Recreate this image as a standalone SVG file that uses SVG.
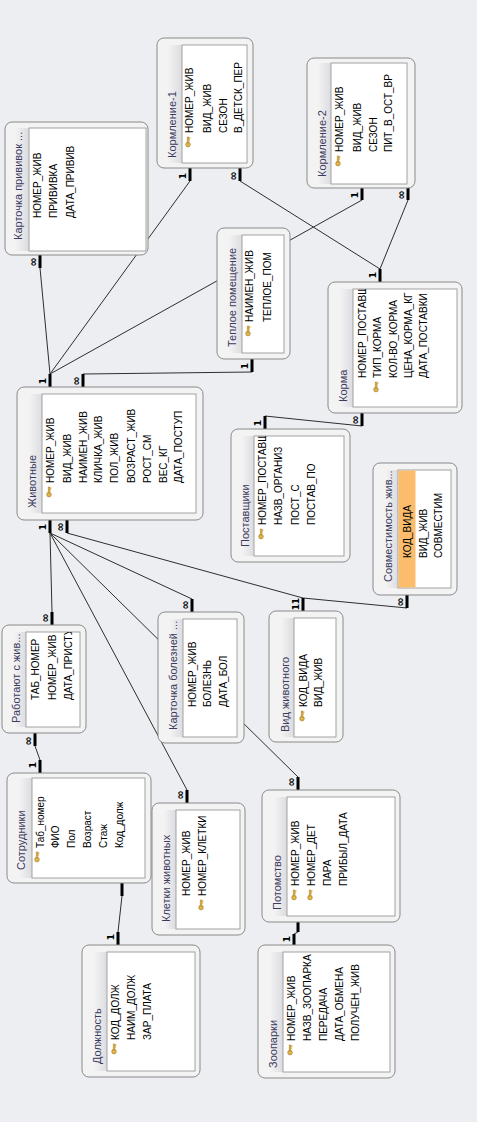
<svg xmlns="http://www.w3.org/2000/svg" xmlns:xlink="http://www.w3.org/1999/xlink" width="477" height="1122" viewBox="0 0 477 1122">
<style>
.box{fill:#f3f3f4;stroke:#8a8a8a;stroke-width:1}
.strip{fill:url(#sg)}
.wa{fill:#fff;stroke:#a2a2a2;stroke-width:1}
.tt{font-family:"Liberation Sans",Arial,sans-serif;font-size:11px;fill:#3b3b5e}
.fd{font-family:"Liberation Sans",Arial,sans-serif;font-size:10px;fill:#000}
.ln{stroke:#2e2e2e;stroke-width:1;fill:none}
.st{stroke:#000;stroke-width:3}
.lb{font-family:"DejaVu Sans",sans-serif;font-size:9px;font-weight:bold;fill:#000}
.inf{font-family:"DejaVu Sans",sans-serif;font-size:11px;font-weight:bold;fill:#000}
</style>
<defs>
<linearGradient id="sg" x1="0" y1="0" x2="1" y2="0">
<stop offset="0" stop-color="#f3f3f4"/>
<stop offset="1" stop-color="#dcdce0"/>
</linearGradient>
<g id="key">
<circle cx="0" cy="2.6" r="2.3" fill="#e3b548" stroke="#9a7420" stroke-width="0.6"/>
<rect x="-0.9" y="-5" width="1.8" height="6" fill="#e3b548" stroke="#9a7420" stroke-width="0.4"/>
<rect x="0.8" y="-4.5" width="1.6" height="1.2" fill="#c9982e"/>
<rect x="0.8" y="-2.4" width="1.2" height="1" fill="#c9982e"/>
</g>
<clipPath id="c5"><rect x="353" y="289" width="104" height="118"/></clipPath>
<clipPath id="c7"><rect x="254" y="436" width="90" height="120"/></clipPath>
<clipPath id="c9"><rect x="26" y="632" width="54" height="95"/></clipPath>
<clipPath id="c16"><rect x="283" y="952" width="107" height="120"/></clipPath>
</defs>
<rect x="0" y="0" width="477" height="1122" fill="#eceef1"/>

<g id="connectors">
<line class="ln" x1="40" y1="268" x2="50" y2="374"/>
<line class="ln" x1="190" y1="181" x2="50" y2="374"/>
<line class="ln" x1="362" y1="200" x2="50" y2="374"/>
<line class="ln" x1="252" y1="372" x2="83" y2="374"/>
<line class="ln" x1="240" y1="181" x2="380" y2="269"/>
<line class="ln" x1="408" y1="200" x2="380" y2="269"/>
<line class="ln" x1="362" y1="426" x2="265" y2="416"/>
<line class="ln" x1="50" y1="533" x2="52" y2="612"/>
<line class="ln" x1="50" y1="533" x2="192" y2="599"/>
<line class="ln" x1="50" y1="533" x2="187" y2="790"/>
<line class="ln" x1="50" y1="533" x2="298" y2="777"/>
<line class="ln" x1="67" y1="533" x2="303" y2="598"/>
<line class="ln" x1="303" y1="598" x2="407" y2="608"/>
<line class="ln" x1="35" y1="746" x2="40" y2="760"/>
<line class="ln" x1="122" y1="896" x2="118" y2="932"/>
<line class="ln" x1="298" y1="932" x2="294" y2="934"/>
<line class="st" x1="40" y1="255" x2="40" y2="268"/>
<line class="st" x1="190" y1="168" x2="190" y2="181"/>
<line class="st" x1="240" y1="168" x2="240" y2="181"/>
<line class="st" x1="362" y1="188" x2="362" y2="200"/>
<line class="st" x1="408" y1="188" x2="408" y2="200"/>
<line class="st" x1="252" y1="359" x2="252" y2="372"/>
<line class="st" x1="380" y1="282" x2="380" y2="269"/>
<line class="st" x1="362" y1="413" x2="362" y2="426"/>
<line class="st" x1="50" y1="387" x2="50" y2="374"/>
<line class="st" x1="83" y1="387" x2="83" y2="374"/>
<line class="st" x1="265" y1="429" x2="265" y2="416"/>
<line class="st" x1="50" y1="520" x2="50" y2="533"/>
<line class="st" x1="67" y1="520" x2="67" y2="533"/>
<line class="st" x1="52" y1="625" x2="52" y2="612"/>
<line class="st" x1="35" y1="733" x2="35" y2="746"/>
<line class="st" x1="192" y1="612" x2="192" y2="599"/>
<line class="st" x1="303" y1="611" x2="303" y2="598"/>
<line class="st" x1="407" y1="595" x2="407" y2="608"/>
<line class="st" x1="40" y1="773" x2="40" y2="760"/>
<line class="st" x1="122" y1="883" x2="122" y2="896"/>
<line class="st" x1="118" y1="945" x2="118" y2="932"/>
<line class="st" x1="187" y1="803" x2="187" y2="790"/>
<line class="st" x1="298" y1="790" x2="298" y2="777"/>
<line class="st" x1="298" y1="922" x2="298" y2="932"/>
<line class="st" x1="294" y1="945" x2="294" y2="934"/>
<text class="inf" text-anchor="middle" transform="translate(36.5,262) rotate(-90)">∞</text>
<text class="lb" text-anchor="middle" transform="translate(186,176) rotate(-90)">1</text>
<text class="inf" text-anchor="middle" transform="translate(236.5,176) rotate(-90)">∞</text>
<text class="lb" text-anchor="middle" transform="translate(358,195) rotate(-90)">1</text>
<text class="inf" text-anchor="middle" transform="translate(404.5,195) rotate(-90)">∞</text>
<text class="lb" text-anchor="middle" transform="translate(248,366) rotate(-90)">1</text>
<text class="lb" text-anchor="middle" transform="translate(376,275) rotate(-90)">1</text>
<text class="inf" text-anchor="middle" transform="translate(358.5,420) rotate(-90)">∞</text>
<text class="lb" text-anchor="middle" transform="translate(46,381) rotate(-90)">1</text>
<text class="inf" text-anchor="middle" transform="translate(79.5,381) rotate(-90)">∞</text>
<text class="lb" text-anchor="middle" transform="translate(261,423) rotate(-90)">1</text>
<text class="lb" text-anchor="middle" transform="translate(46,527) rotate(-90)">1</text>
<text class="inf" text-anchor="middle" transform="translate(63.5,527) rotate(-90)">∞</text>
<text class="inf" text-anchor="middle" transform="translate(48.5,618) rotate(-90)">∞</text>
<text class="inf" text-anchor="middle" transform="translate(31.5,741) rotate(-90)">∞</text>
<text class="inf" text-anchor="middle" transform="translate(188.5,605) rotate(-90)">∞</text>
<text class="lb" text-anchor="middle" transform="translate(299,607) rotate(-90)">1</text>
<text class="lb" text-anchor="middle" transform="translate(299,601) rotate(-90)">1</text>
<text class="inf" text-anchor="middle" transform="translate(403.5,602) rotate(-90)">∞</text>
<text class="lb" text-anchor="middle" transform="translate(36,765) rotate(-90)">1</text>
<text class="lb" text-anchor="middle" transform="translate(114,937) rotate(-90)">1</text>
<text class="inf" text-anchor="middle" transform="translate(183.5,795) rotate(-90)">∞</text>
<text class="inf" text-anchor="middle" transform="translate(294.5,782) rotate(-90)">∞</text>
<text class="lb" text-anchor="middle" transform="translate(290,939) rotate(-90)">1</text>
</g>

<g id="t-privivki">
<rect class="box" x="5" y="122" width="143" height="133" rx="7"/>
<rect class="strip" x="15" y="128" width="14" height="123"/>
<rect class="wa" x="29" y="128" width="117" height="123"/>
<text class="tt" transform="translate(22,240) rotate(-90)">Карточка прививок ...</text>
<text class="fd" transform="translate(40.5,218) rotate(-90)">НОМЕР_ЖИВ</text>
<text class="fd" transform="translate(56.5,218) rotate(-90)">ПРИВИВКА</text>
<text class="fd" transform="translate(73.5,218) rotate(-90)">ДАТА_ПРИВИВ</text>
</g>

<g id="t-kormlenie1">
<rect class="box" x="157" y="38" width="96" height="130" rx="7"/>
<rect class="strip" x="168" y="45" width="14" height="118"/>
<rect class="wa" x="182" y="45" width="65" height="118"/>
<text class="tt" transform="translate(176,158) rotate(-90)">Кормление-1</text>
<use xlink:href="#key" x="188" y="142"/>
<text class="fd" transform="translate(192.5,133) rotate(-90)">НОМЕР_ЖИВ</text>
<text class="fd" transform="translate(210.5,133) rotate(-90)">ВИД_ЖИВ</text>
<text class="fd" transform="translate(226.5,133) rotate(-90)">СЕЗОН</text>
<text class="fd" transform="translate(241.5,133) rotate(-90)">В_ДЕТСК_ПЕР</text>
</g>

<g id="t-kormlenie2">
<rect class="box" x="307" y="58" width="108" height="130" rx="7"/>
<rect class="strip" x="318" y="63" width="13" height="121"/>
<rect class="wa" x="331" y="63" width="76" height="121"/>
<text class="tt" transform="translate(326,177) rotate(-90)">Кормление-2</text>
<use xlink:href="#key" x="338" y="161"/>
<text class="fd" transform="translate(342.5,152) rotate(-90)">НОМЕР_ЖИВ</text>
<text class="fd" transform="translate(360.5,152) rotate(-90)">ВИД_ЖИВ</text>
<text class="fd" transform="translate(376.5,152) rotate(-90)">СЕЗОН</text>
<text class="fd" transform="translate(391.5,152) rotate(-90)">ПИТ_В_ОСТ_ВР</text>
</g>

<g id="t-teploe">
<rect class="box" x="217" y="228" width="73" height="131" rx="7"/>
<rect class="strip" x="229" y="235" width="13" height="118"/>
<rect class="wa" x="242" y="235" width="42" height="118"/>
<text class="tt" transform="translate(236,347) rotate(-90)">Теплое помещение</text>
<use xlink:href="#key" x="248" y="331"/>
<text class="fd" transform="translate(252.5,322) rotate(-90)">НАИМЕН_ЖИВ</text>
<text class="fd" transform="translate(270.5,322) rotate(-90)">ТЕПЛОЕ_ПОМ</text>
</g>

<g id="t-korma">
<rect class="box" x="328" y="282" width="134" height="131" rx="7"/>
<rect class="strip" x="340" y="289" width="13" height="118"/>
<rect class="wa" x="353" y="289" width="104" height="118"/>
<text class="tt" transform="translate(347,402) rotate(-90)">Корма</text>
<use xlink:href="#key" x="376" y="387"/>
<g clip-path="url(#c5)">
<text class="fd" transform="translate(365.5,378) rotate(-90)">НОМЕР_ПОСТАВЩ</text>
<text class="fd" transform="translate(380.5,378) rotate(-90)">ТИП_КОРМА</text>
<text class="fd" transform="translate(396.5,378) rotate(-90)">КОЛ-ВО_КОРМА</text>
<text class="fd" transform="translate(411.5,378) rotate(-90)">ЦЕНА_КОРМА_КГ</text>
<text class="fd" transform="translate(426.5,378) rotate(-90)">ДАТА_ПОСТАВКИ</text>
</g>
</g>

<g id="t-zhivotnye">
<rect class="box" x="17" y="387" width="186" height="133" rx="7"/>
<rect class="strip" x="29" y="394" width="13" height="119"/>
<rect class="wa" x="42" y="394" width="154" height="119"/>
<text class="tt" transform="translate(36,508) rotate(-90)">Животные</text>
<use xlink:href="#key" x="49" y="492"/>
<text class="fd" transform="translate(53.5,483) rotate(-90)">НОМЕР_ЖИВ</text>
<text class="fd" transform="translate(70.5,483) rotate(-90)">ВИД_ЖИВ</text>
<text class="fd" transform="translate(86.5,483) rotate(-90)">НАИМЕН_ЖИВ</text>
<text class="fd" transform="translate(101.5,483) rotate(-90)">КЛИЧКА_ЖИВ</text>
<text class="fd" transform="translate(117.5,483) rotate(-90)">ПОЛ_ЖИВ</text>
<text class="fd" transform="translate(134.5,483) rotate(-90)">ВОЗРАСТ_ЖИВ</text>
<text class="fd" transform="translate(150.5,483) rotate(-90)">РОСТ_СМ</text>
<text class="fd" transform="translate(166.5,483) rotate(-90)">ВЕС_КГ</text>
<text class="fd" transform="translate(181.5,483) rotate(-90)">ДАТА_ПОСТУП</text>
</g>

<g id="t-postavshiki">
<rect class="box" x="231" y="429" width="119" height="133" rx="7"/>
<rect class="strip" x="242" y="436" width="12" height="120"/>
<rect class="wa" x="254" y="436" width="90" height="120"/>
<text class="tt" transform="translate(249,547) rotate(-90)">Поставщики</text>
<use xlink:href="#key" x="261" y="534"/>
<g clip-path="url(#c7)">
<text class="fd" transform="translate(265.5,525) rotate(-90)">НОМЕР_ПОСТАВЩ</text>
<text class="fd" transform="translate(281.5,525) rotate(-90)">НАЗВ_ОРГАНИЗ</text>
<text class="fd" transform="translate(298.5,525) rotate(-90)">ПОСТ_С</text>
<text class="fd" transform="translate(314.5,525) rotate(-90)">ПОСТАВ_ПО</text>
</g>
</g>

<g id="t-sovmestimost">
<rect class="box" x="373" y="463" width="84" height="132" rx="7"/>
<rect class="strip" x="386" y="470" width="12" height="118"/>
<rect class="wa" x="398" y="470" width="53" height="118"/>
<rect x="398.5" y="470.5" width="17" height="117" fill="#fbbd6c"/>
<text class="tt" transform="translate(392,582) rotate(-90)">Совместимость жив...</text>
<text class="fd" transform="translate(410.5,558) rotate(-90)">КОД_ВИДА</text>
<text class="fd" transform="translate(426.5,558) rotate(-90)">ВИД_ЖИВ</text>
<text class="fd" transform="translate(441.5,558) rotate(-90)">СОВМЕСТИМ</text>
</g>

<g id="t-rabotayut">
<rect class="box" x="2" y="625" width="84" height="108" rx="7"/>
<rect class="strip" x="14" y="632" width="12" height="95"/>
<rect class="wa" x="26" y="632" width="54" height="95"/>
<text class="tt" transform="translate(20,723) rotate(-90)">Работают с жив...</text>
<g clip-path="url(#c9)">
<text class="fd" transform="translate(38.5,700) rotate(-90)">ТАБ_НОМЕР</text>
<text class="fd" transform="translate(55.5,700) rotate(-90)">НОМЕР_ЖИВ</text>
<text class="fd" transform="translate(71.5,700) rotate(-90)">ДАТА_ПРИСТУП</text>
</g>
</g>

<g id="t-bolezni">
<rect class="box" x="158" y="612" width="86" height="131" rx="7"/>
<rect class="strip" x="170" y="619" width="13" height="118"/>
<rect class="wa" x="183" y="619" width="54" height="118"/>
<text class="tt" transform="translate(177,730) rotate(-90)">Карточка болезней ...</text>
<text class="fd" transform="translate(195.5,707) rotate(-90)">НОМЕР_ЖИВ</text>
<text class="fd" transform="translate(210.5,707) rotate(-90)">БОЛЕЗНЬ</text>
<text class="fd" transform="translate(226.5,707) rotate(-90)">ДАТА_БОЛ</text>
</g>

<g id="t-vid">
<rect class="box" x="269" y="611" width="74" height="131" rx="7"/>
<rect class="strip" x="281" y="618" width="13" height="119"/>
<rect class="wa" x="294" y="618" width="42" height="119"/>
<text class="tt" transform="translate(289,732) rotate(-90)">Вид животного</text>
<use xlink:href="#key" x="302" y="716"/>
<text class="fd" transform="translate(306.5,707) rotate(-90)">КОД_ВИДА</text>
<text class="fd" transform="translate(321.5,707) rotate(-90)">ВИД_ЖИВ</text>
</g>

<g id="t-sotrudniki">
<rect class="box" x="7" y="773" width="144" height="110" rx="7"/>
<rect class="strip" x="19" y="778" width="13" height="100"/>
<rect class="wa" x="32" y="778" width="113" height="100"/>
<text class="tt" transform="translate(25,870) rotate(-90)">Сотрудники</text>
<use xlink:href="#key" x="37" y="857"/>
<text class="fd" transform="translate(43.5,848) rotate(-90)">Таб_номер</text>
<text class="fd" transform="translate(58.5,848) rotate(-90)">ФИО</text>
<text class="fd" transform="translate(74.5,848) rotate(-90)">Пол</text>
<text class="fd" transform="translate(90.5,848) rotate(-90)">Возраст</text>
<text class="fd" transform="translate(106.5,848) rotate(-90)">Стаж</text>
<text class="fd" transform="translate(122.5,848) rotate(-90)">Код_долж</text>
</g>

<g id="t-kletki">
<rect class="box" x="152" y="803" width="93" height="132" rx="7"/>
<rect class="strip" x="164" y="810" width="12" height="119"/>
<rect class="wa" x="176" y="810" width="64" height="119"/>
<text class="tt" transform="translate(170,922) rotate(-90)">Клетки животных</text>
<use xlink:href="#key" x="201" y="905"/>
<text class="fd" transform="translate(189.5,896) rotate(-90)">НОМЕР_ЖИВ</text>
<text class="fd" transform="translate(205.5,896) rotate(-90)">НОМЕР_КЛЕТКИ</text>
</g>

<g id="t-potomstvo">
<rect class="box" x="262" y="790" width="138" height="132" rx="7"/>
<rect class="strip" x="274" y="797" width="13" height="119"/>
<rect class="wa" x="287" y="797" width="108" height="119"/>
<text class="tt" transform="translate(281,910) rotate(-90)">Потомство</text>
<use xlink:href="#key" x="294" y="895"/>
<use xlink:href="#key" x="310" y="895"/>
<text class="fd" transform="translate(298.5,886) rotate(-90)">НОМЕР_ЖИВ</text>
<text class="fd" transform="translate(314.5,886) rotate(-90)">НОМЕР_ДЕТ</text>
<text class="fd" transform="translate(330.5,886) rotate(-90)">ПАРА</text>
<text class="fd" transform="translate(346.5,886) rotate(-90)">ПРИБЫЛ_ДАТА</text>
</g>

<g id="t-dolzhnost">
<rect class="box" x="82" y="945" width="118" height="132" rx="7"/>
<rect class="strip" x="94" y="952" width="13" height="119"/>
<rect class="wa" x="107" y="952" width="88" height="119"/>
<text class="tt" transform="translate(101,1064) rotate(-90)">Должность</text>
<use xlink:href="#key" x="114" y="1049"/>
<text class="fd" transform="translate(118.5,1040) rotate(-90)">КОД_ДОЛЖ</text>
<text class="fd" transform="translate(134.5,1040) rotate(-90)">НАИМ_ДОЛЖ</text>
<text class="fd" transform="translate(150.5,1040) rotate(-90)">ЗАР_ПЛАТА</text>
</g>

<g id="t-zooparki">
<rect class="box" x="258" y="945" width="137" height="133" rx="7"/>
<rect class="strip" x="270" y="952" width="13" height="120"/>
<rect class="wa" x="283" y="952" width="107" height="120"/>
<text class="tt" transform="translate(277,1068) rotate(-90)">Зоопарки</text>
<use xlink:href="#key" x="290" y="1050"/>
<g clip-path="url(#c16)">
<text class="fd" transform="translate(294.5,1041) rotate(-90)">НОМЕР_ЖИВ</text>
<text class="fd" transform="translate(310.5,1041) rotate(-90)">НАЗВ_ЗООПАРКА</text>
<text class="fd" transform="translate(326.5,1041) rotate(-90)">ПЕРЕДАЧА</text>
<text class="fd" transform="translate(342.5,1041) rotate(-90)">ДАТА_ОБМЕНА</text>
<text class="fd" transform="translate(358.5,1041) rotate(-90)">ПОЛУЧЕН_ЖИВ</text>
</g>
</g>
</svg>
